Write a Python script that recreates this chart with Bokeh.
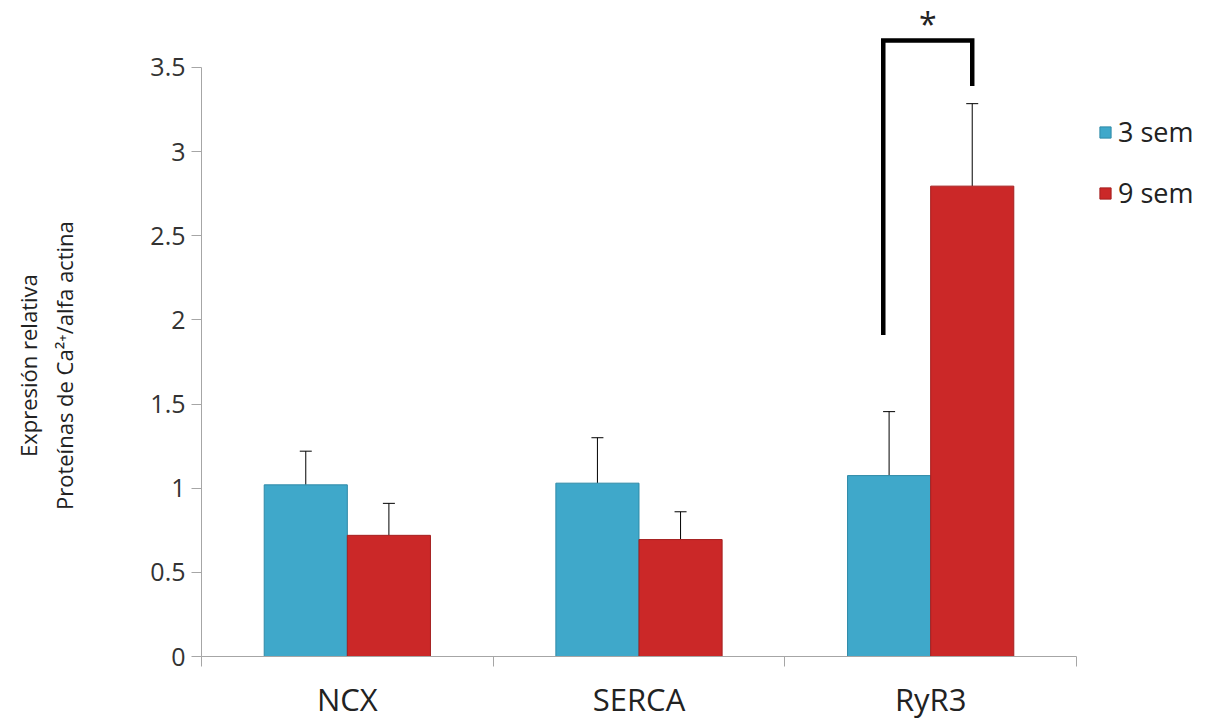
import numpy as np
from bokeh.plotting import figure
from bokeh.models import (Range1d, FixedTicker, Whisker, TeeHead, ColumnDataSource,
                          Legend, LegendItem)
from bokeh.core.properties import value
from bokeh.embed import file_html
from bokeh.resources import INLINE

# ---- data ----
categories = ["NCX", "SERCA", "RyR3"]
series_names = ["3 sem", "9 sem"]
values_3sem = [1.02, 1.03, 1.075]
err_3sem = [0.20, 0.27, 0.38]
values_9sem = [0.72, 0.695, 2.795]
err_9sem = [0.19, 0.165, 0.49]
y_ticks = [0, 0.5, 1, 1.5, 2, 2.5, 3, 3.5]
y_tick_labels = ["0", "0.5", "1", "1.5", "2", "2.5", "3", "3.5"]
y_label_lines = ["Expresión relativa", "Proteínas de Ca²⁺/alfa actina"]
sig_text = "*"
sig_bracket_y = [1.91, 3.66, 3.66, 3.39]
sig_star_y = 3.76

FONT = "Open Sans"
BLUE = "#3FA8CA"
BLUE_EDGE = "#2F8AA8"
RED = "#CB2828"
RED_EDGE = "#A51F1F"
AXIS = "#A6A6A6"
TXT = "#222222"

centers = [i + 0.5 for i in range(len(categories))]
bw = 0.285
x3 = [c - bw / 2 for c in centers]
x9 = [c + bw / 2 for c in centers]

p = figure(width=1208, height=722, x_range=Range1d(0, 3.4526), y_range=Range1d(0, 3.898),
           output_backend="svg", toolbar_location=None,
           min_border_left=201, min_border_right=0, min_border_bottom=65, min_border_top=0)
p.outline_line_color = None
p.xgrid.grid_line_color = None
p.ygrid.grid_line_color = None
p.background_fill_color = "white"

# bars
src3 = ColumnDataSource(dict(x=x3, top=values_3sem, upper=[v + e for v, e in zip(values_3sem, err_3sem)]))
src9 = ColumnDataSource(dict(x=x9, top=values_9sem, upper=[v + e for v, e in zip(values_9sem, err_9sem)]))
r3 = p.vbar(x="x", top="top", width=bw, source=src3, fill_color=BLUE, line_color=BLUE_EDGE, line_width=1)
r9 = p.vbar(x="x", top="top", width=bw, source=src9, fill_color=RED, line_color=RED_EDGE, line_width=1)

for src in (src3, src9):
    w = Whisker(base="x", lower="top", upper="upper", source=src, dimension="height",
                line_color="black", line_width=1,
                upper_head=TeeHead(size=12, line_color="black", line_width=1), lower_head=None)
    p.add_layout(w)

# significance bracket
bx = [x3[2] - 0.02, x3[2] - 0.02, x9[2], x9[2]]
p.line(bx, sig_bracket_y, line_width=4.5, color="black", line_join="miter")
p.text(x=[(bx[0] + bx[-1]) / 2], y=[sig_star_y], text=[sig_text], text_font=value(FONT),
       text_font_size="32px", text_align="center", text_baseline="middle", text_color=TXT)

# x axis: category names at centres, boundary ticks as minor ticks
xa = p.xaxis[0]
xa.bounds = (0, 3)
xa.ticker = FixedTicker(ticks=centers, minor_ticks=[0, 1, 2, 3])
xa.major_label_overrides = {c: n for c, n in zip(centers, categories)}
xa.major_tick_out = 0
xa.major_tick_in = 0
xa.major_tick_line_color = None
xa.minor_tick_out = 10
xa.minor_tick_in = 0
xa.minor_tick_line_color = AXIS
xa.axis_line_color = AXIS
xa.major_label_text_font = FONT
xa.major_label_text_font_size = "31px"
xa.major_label_text_color = TXT
xa.major_label_standoff = 11

# y axis
ya = p.yaxis[0]
ya.ticker = FixedTicker(ticks=y_ticks)
ya.major_label_overrides = {t: l for t, l in zip(y_ticks, y_tick_labels)}
ya.bounds = (0, 3.5)
ya.major_tick_out = 10
ya.major_tick_in = 0
ya.minor_tick_line_color = None
ya.axis_line_color = AXIS
ya.major_tick_line_color = AXIS
ya.major_label_text_font = FONT
ya.major_label_text_font_size = "25px"
ya.major_label_text_color = "#333333"
ya.major_label_standoff = 6
# two-line axis title; trailing no-break spaces shift it toward the lower part of the axis
pad = "\u00a0" * 13
ya.axis_label = "\n".join(line + pad for line in y_label_lines)
ya.axis_label_text_font = FONT
ya.axis_label_text_font_size = "22px"
ya.axis_label_text_font_style = "normal"
ya.axis_label_text_color = TXT
ya.axis_label_standoff = 68

legend = Legend(items=[LegendItem(label=series_names[0], renderers=[r3]),
                       LegendItem(label=series_names[1], renderers=[r9])],
                location=(897, 445), border_line_color=None, background_fill_alpha=0,
                glyph_width=14, glyph_height=14, label_text_font=FONT,
                label_text_font_size="27px", label_text_color=TXT,
                spacing=24, label_standoff=6, padding=10, margin=0)
p.add_layout(legend, "center")

open("out.html", "w").write(file_html(p, INLINE))
